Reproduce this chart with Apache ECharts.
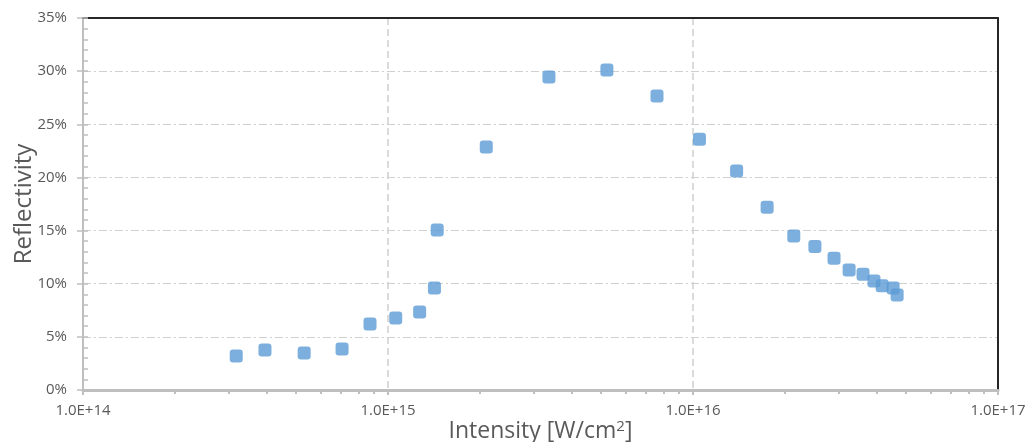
<!DOCTYPE html>
<html>
<head>
<meta charset="utf-8">
<script src="https://cdn.jsdelivr.net/npm/echarts@6/dist/echarts.min.js"></script>
<style>
html,body{margin:0;padding:0;background:#fff;overflow:hidden;}
#chart{width:1028px;height:442px;}
</style>
</head>
<body>
<div id="chart"></div>
<script>
const intensity = [3.18e14, 3.95e14, 5.31e14, 7.07e14, 8.73e14, 1.06e15, 1.27e15, 1.42e15, 1.45e15, 2.10e15, 3.37e15, 5.22e15, 7.62e15, 1.05e16, 1.39e16, 1.75e16, 2.14e16, 2.51e16, 2.90e16, 3.25e16, 3.61e16, 3.92e16, 4.17e16, 4.53e16, 4.67e16];
const reflectivity = [3.2, 3.76, 3.48, 3.86, 6.2, 6.77, 7.34, 9.6, 15.05, 22.86, 29.45, 30.1, 27.66, 23.6, 20.6, 17.2, 14.5, 13.5, 12.4, 11.3, 10.9, 10.25, 9.8, 9.6, 8.94];
const xMin = 1e14, xMax = 1e17;
const yTicks = ['0%','5%','10%','15%','20%','25%','30%','35%'];
const xAxisName = 'Intensity [W/cm{sup|2}]';
const yAxisName = 'Reflectivity';

const minorX = [];
for (let d = 14; d < 17; d++) for (let k = 2; k <= 9; k++) minorX.push(k * Math.pow(10, d));

const font = 'Open Sans, Liberation Sans, sans-serif';
const chart = echarts.init(document.getElementById('chart'), null, {renderer: 'canvas'});
const grid = {left: 83, right: 30, top: 18, bottom: 52, outerBoundsMode: 'none', containLabel: false};
const gridDash = {color: '#d0d0d0', width: 1.2, type: [8, 3, 2, 3]};

chart.setOption({
  animation: false,
  grid: grid,
  xAxis: [{
    type: 'log', logBase: 10, min: xMin, max: xMax, position: 'bottom',
    name: xAxisName, nameLocation: 'middle', nameGap: 29, nameMoveOverlap: false,
    nameTextStyle: {fontFamily: font, fontSize: 23, color: '#595959',
      rich: {sup: {fontFamily: font, fontSize: 15, color: '#595959', verticalAlign: 'top', padding: [0, 0, 10, 0]}}},
    axisLine: {show: true, onZero: false, lineStyle: {color: '#bfbfbf', width: 3}},
    axisTick: {show: true, length: 5, lineStyle: {color: '#bfbfbf', width: 2}},
    axisLabel: {fontFamily: font, fontSize: 15, color: '#595959', margin: 13,
      formatter: v => Number(v).toExponential(1).toUpperCase()},
    splitLine: {show: true, lineStyle: {color: '#cfcfcf', width: 1.5, type: [7, 4]}},
    minorTick: {show: false}
  }, {
    type: 'log', logBase: 10, min: xMin, max: xMax, position: 'bottom',
    axisLine: {show: false, onZero: false},
    axisLabel: {show: false},
    splitLine: {show: false},
    axisTick: {show: true, length: 4, customValues: minorX, lineStyle: {color: '#bfbfbf', width: 2}}
  }, {
    type: 'log', logBase: 10, min: xMin, max: xMax, position: 'top',
    axisLine: {show: true, onZero: false, lineStyle: {color: '#262626', width: 2}},
    axisTick: {show: false}, axisLabel: {show: false}, splitLine: {show: false}
  }],
  yAxis: [{
    type: 'value', min: 0, max: 35, interval: 5, position: 'left',
    name: yAxisName, nameLocation: 'middle', nameGap: 47, nameMoveOverlap: false,
    nameTextStyle: {fontFamily: font, fontSize: 24, color: '#595959'},
    axisLine: {show: true, onZero: false, lineStyle: {color: '#bfbfbf', width: 2}},
    axisTick: {show: true, length: 6, lineStyle: {color: '#bfbfbf', width: 1.5}},
    axisLabel: {fontFamily: font, fontSize: 15, color: '#595959', margin: 16,
      formatter: v => yTicks[Math.round(v / 5)]},
    splitLine: {show: true, lineStyle: gridDash}
  }, {
    type: 'value', min: 0, max: 35, interval: 1, position: 'left',
    axisLine: {show: false, onZero: false},
    axisLabel: {show: false},
    splitLine: {show: false},
    axisTick: {show: true, inside: true, length: 5, lineStyle: {color: '#bfbfbf', width: 1.5}}
  }, {
    type: 'value', min: 0, max: 35, interval: 5, position: 'right',
    axisLine: {show: true, onZero: false, lineStyle: {color: '#262626', width: 2}},
    axisTick: {show: false}, axisLabel: {show: false}, splitLine: {show: false}
  }],
  series: [{
    type: 'scatter',
    xAxisIndex: 0, yAxisIndex: 0,
    symbol: 'roundRect', symbolSize: 13,
    itemStyle: {color: '#5b9bd5'},
    data: intensity.map((x, i) => [x, reflectivity[i]])
  }]
});
</script>
</body>
</html>
